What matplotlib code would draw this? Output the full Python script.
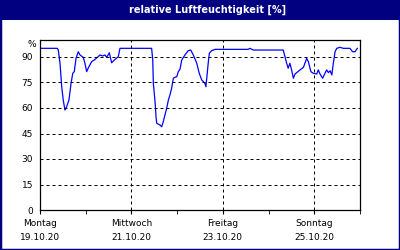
import numpy as np
import matplotlib
matplotlib.use("Agg")
import matplotlib.pyplot as plt
from matplotlib.patches import Rectangle

# Stunden ab Montag 19.10.20 00:00
stunden = [0, 9.1, 9.6, 10.5, 11.4, 12.2, 13.1, 14.0, 15.2, 16.3, 17.2, 18.0, 18.9, 20.1,
           21.0, 22.7, 23.6, 24.5, 25.4, 27.1, 28.9, 31.5, 32.9, 34.1, 35.0, 36.4, 37.6,
           39.4, 41.1, 42.0, 58.6, 59.2, 59.5, 60.4, 60.9, 61.3, 63.0, 63.9, 64.7, 65.6,
           66.5, 67.4, 68.2, 69.1, 70.0, 70.9, 71.8, 72.6, 73.5, 74.4, 76.1, 77.8, 79.1,
           80.5, 82.3, 83.6, 84.9, 86.6, 87.1, 87.8, 88.3, 88.9, 90.1, 91.9, 109.3, 110.2,
           112.0, 127.7, 128.6, 129.5, 130.3, 131.2, 132.1, 133.0, 133.9, 136.5, 138.3,
           140.0, 140.9, 142.2, 143.5, 145.3, 146.1, 147.0, 148.4, 149.6, 150.5, 151.4,
           152.3, 153.2, 154.0, 154.9, 155.8, 157.5, 159.2, 162.7, 164.1, 165.4, 166.6]
feuchte = [95.1, 95.1, 94.1, 86.3, 72.5, 64.7, 58.8, 60.8, 64.7, 74.5, 80.4, 81.4, 89.2, 93.1,
           91.2, 89.8, 86.3, 81.4, 83.7, 87.2, 88.6, 91.2, 90.6, 91.2, 89.8, 92.5, 86.6,
           88.6, 90.2, 95.1, 95.1, 88.2, 74.5, 63.7, 54.9, 51.0, 50.0, 49.0, 51.9, 55.9,
           59.8, 64.7, 67.6, 71.6, 77.5, 78.1, 78.4, 81.4, 82.8, 88.2, 91.2, 93.7, 94.1,
           91.2, 86.3, 80.4, 76.5, 74.5, 72.5, 80.4, 86.3, 92.2, 93.7, 94.5, 94.5, 95.1,
           94.1, 94.1, 90.2, 86.3, 83.4, 86.3, 82.4, 77.5, 80.0, 82.4, 83.9,
           89.2, 87.2, 81.4, 80.4, 80.0, 82.4, 80.0, 77.5, 80.4, 82.4, 80.8,
           81.9, 79.4, 86.3, 93.1, 95.1, 95.7, 95.1, 95.1, 93.1, 93.1, 95.1]

tage_pos = [0, 48, 96, 144]
tage_namen = ["Montag", "Mittwoch", "Freitag", "Sonntag"]
tage_datum = ["19.10.20", "21.10.20", "23.10.20", "25.10.20"]
y_ticks = [0, 15, 30, 45, 60, 75, 90]

navy = "#000080"

fig = plt.figure(figsize=(4, 2.5), dpi=100)
fig.patch.set_facecolor("white")

# Rahmen + Titelbalken
fig.patches.append(Rectangle((0, 0), 1, 1, transform=fig.transFigure, fill=False,
                             edgecolor=navy, linewidth=2.5))
fig.patches.append(Rectangle((0, 1 - 20 / 250), 1, 20 / 250, transform=fig.transFigure,
                             facecolor=navy, edgecolor="none"))
fig.text(0.52, 1 - 10 / 250, "relative Luftfeuchtigkeit [%]", color="white",
         fontsize=7, fontweight="bold", ha="center", va="center")

ax = fig.add_axes([40 / 400, 40 / 250, 320 / 400, 170 / 250])
ax.plot(stunden, feuchte, color="#0000ff", linewidth=0.9)

ax.set_xlim(0, 168)
ax.set_ylim(0, 100)

ax.set_yticks(y_ticks)
ax.set_yticklabels([str(v) for v in y_ticks])
ax.text(-2.0, 97.5, "%", transform=ax.transData, ha="right", va="center", fontsize=6.5)

ax.set_xticks(tage_pos)
ax.set_xticklabels([n + "\n" + d for n, d in zip(tage_namen, tage_datum)], linespacing=1.7)
ax.set_xticks([24, 72, 120, 168], minor=True)

ax.tick_params(axis="y", length=0, pad=5, labelsize=6.5)
ax.tick_params(axis="x", which="both", length=3, direction="out", pad=3.5, labelsize=6.5)

for v in y_ticks[1:]:
    ax.axhline(v, color="black", linewidth=0.72, linestyle=(0, (3, 3)))
for t in tage_pos[1:]:
    ax.axvline(t, color="black", linewidth=0.72, linestyle=(0, (3, 3)))

for s in ax.spines.values():
    s.set_linewidth(0.9)
    s.set_color("black")

fig.savefig("out.png", dpi=100)
